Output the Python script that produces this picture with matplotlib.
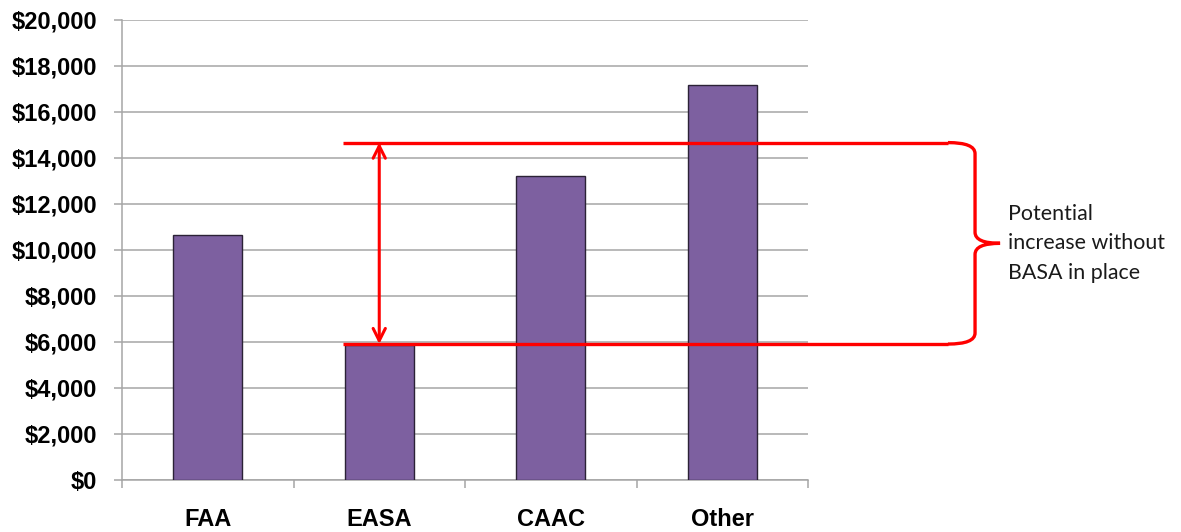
import numpy as np
import matplotlib.pyplot as plt
from matplotlib.path import Path
from matplotlib.patches import PathPatch

categories = ['FAA', 'EASA', 'CAAC', 'Other']
values = [10640, 5880, 13230, 17170]
y_ticks = [0, 2000, 4000, 6000, 8000, 10000, 12000, 14000, 16000, 18000, 20000]
upper_level = 14670
lower_level = 5910
note = 'Potential\nincrease without\nBASA in place'

bar_color = '#7D60A0'
grid_color = '#A6A6A6'
red = '#FF0000'

fig = plt.figure(figsize=(11.81, 5.32), dpi=100)
ax = fig.add_axes([122 / 1181, 1 - 480 / 532, 686 / 1181, 460 / 532])

x = np.arange(len(categories))
ax.bar(x, values, width=0.4, color=bar_color, edgecolor='#2B2236',
       linewidth=1.0, zorder=3)

ax.set_xlim(-0.5, len(categories) - 0.5)
ax.set_ylim(0, 20000)
ax.set_yticks(y_ticks)
ax.set_yticklabels([f'${v:,}' for v in y_ticks],
                   fontfamily='Liberation Sans', fontweight='bold', fontsize=17)
ax.yaxis.grid(True, color=grid_color, linewidth=1.1, zorder=0)
ax.tick_params(axis='y', length=6, width=1.1, color=grid_color, pad=12)

ax.set_xticks(x)
ax.set_xticklabels(categories, fontfamily='Liberation Sans',
                   fontweight='bold', fontsize=17)
ax.set_xticks(np.arange(len(categories) + 1) - 0.5, minor=True)
ax.tick_params(axis='x', which='major', length=0, pad=20)
ax.tick_params(axis='x', which='minor', length=6, width=1.1, color=grid_color)

for side in ['top', 'right']:
    ax.spines[side].set_visible(False)
for side in ['left', 'bottom']:
    ax.spines[side].set_color(grid_color)
    ax.spines[side].set_linewidth(1.1)

# red reference lines (extend past the axes to the brace)
x_start, x_end = 0.79, 4.316
for level in [upper_level, lower_level]:
    ax.plot([x_start, x_end], [level, level], color=red, linewidth=2.4,
            clip_on=False, zorder=5, solid_capstyle='butt')

# double headed arrow between the two levels at EASA
ax.annotate('', xy=(1, upper_level), xytext=(1, lower_level),
            arrowprops=dict(arrowstyle='<->', color=red, lw=2.2,
                            mutation_scale=22, shrinkA=0, shrinkB=0),
            zorder=6, annotation_clip=False)

# curly brace on the right
bx = 4.474
tip = 4.62
mid = (upper_level + lower_level) / 2
dy = 480.0
verts = [
    (x_end, upper_level), (bx, upper_level), (bx, upper_level - dy),
    (bx, mid + dy),
    (bx, mid), (tip, mid),
    (bx, mid), (bx, mid - dy),
    (bx, lower_level + dy),
    (bx, lower_level), (x_end, lower_level),
]
codes = [Path.MOVETO, Path.CURVE3, Path.CURVE3, Path.LINETO,
         Path.CURVE3, Path.CURVE3, Path.CURVE3, Path.CURVE3,
         Path.LINETO, Path.CURVE3, Path.CURVE3]
brace = PathPatch(Path(verts, codes), facecolor='none', edgecolor=red,
                  linewidth=2.4, clip_on=False, zorder=5)
ax.add_patch(brace)

ax.text(4.665, mid, note, fontfamily='Lato', fontsize=15.4,
        color='#1A1A1A', va='center', ha='left', linespacing=1.6,
        clip_on=False)

fig.savefig('out.png', dpi=100)
